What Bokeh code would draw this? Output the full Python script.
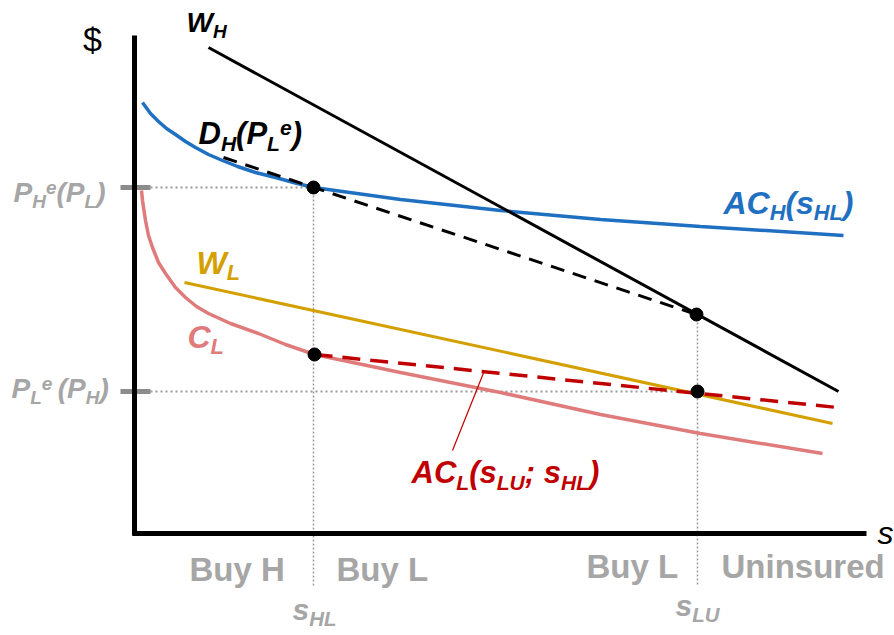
from bokeh.plotting import figure
from bokeh.models import Range1d
from bokeh.core.properties import value
from bokeh.embed import file_html
from bokeh.resources import INLINE

# ---- data (units: s along x, $ along y, origin at axes crossing) ----
wh_s = [74, 704]
wh_p = [486, 142]

ach_s = [8, 16, 24, 32, 41, 51, 61, 74, 88, 103, 121, 141, 159, 179, 266, 366, 466, 566, 709]
ach_p = [431, 420, 412, 405, 399, 392, 386, 379, 373, 367, 361, 356, 351, 346, 334, 323, 314, 307, 298]

dh_s = [89, 562]
dh_p = [376, 219]

wl_s = [50, 698]
wl_p = [251, 110]

cl_s = [7, 8, 11, 14, 18, 24, 31, 41, 51, 62, 74, 96, 124, 151, 180, 266, 366, 466, 566, 688]
cl_p = [343, 333, 313, 298, 286, 271, 260, 246, 236, 227, 220, 210, 200, 189, 179, 161, 141, 119, 100, 80]

acl_s = [180, 703]
acl_p = [179, 126]

dot_s = [179, 562, 180, 563]
dot_p = [346, 219, 179, 142]

s_HL = 179
s_LU = 563
pH_e = 346
pL_e = 142

OX, OY = 134, 533  # picture pixel of origin (for label placement helper)
FIX = 0.34          # baseline compensation (fraction of font size)

p = figure(width=894, height=635, output_backend="svg", toolbar_location=None,
           x_range=Range1d(-OX, 894 - OX), y_range=Range1d(OY - 635, OY),
           min_border=0)
p.axis.visible = False
p.grid.visible = False
p.outline_line_color = None
p.background_fill_color = "white"

GRAY_T = "#a6a6a6"
GRAY_L = "#8c8c8c"

# dotted guides
p.line([16, s_HL], [pH_e, pH_e], line_color="#999999", line_width=2, line_dash="2 3")
p.line([16, s_LU], [pL_e, pL_e], line_color="#999999", line_width=2, line_dash="2 3")
p.line([s_HL, s_HL], [pH_e, -52], line_color="#999999", line_width=1.5, line_dash="2 2")
p.line([s_LU, s_LU], [219, -52], line_color="#999999", line_width=1.5, line_dash="2 2")

# ticks
p.line([-14, 16], [pH_e, pH_e], line_color=GRAY_L, line_width=5)
p.line([-14, 16], [pL_e, pL_e], line_color=GRAY_L, line_width=5)

# axes
p.line([0, 0], [-2, 498], line_color="black", line_width=5)
p.line([-2, 732], [0, 0], line_color="black", line_width=5)

# curves
p.line(cl_s, cl_p, line_color="#e07b7b", line_width=3.5)
p.line(wl_s, wl_p, line_color="#d4a000", line_width=3)
p.line(acl_s, acl_p, line_color="#c00000", line_width=3.5, line_dash="18 10")
p.line(ach_s, ach_p, line_color="#1f70c1", line_width=3.5)
p.line(dh_s, dh_p, line_color="black", line_width=3, line_dash="14 9")
p.line(wh_s, wh_p, line_color="black", line_width=3)

# annotation pointer for AC_L
p.line([350, 318], [163, 83], line_color="#c00000", line_width=1.2)

p.scatter(dot_s, dot_p, size=13, color="black")

# ---- text helper ----
WID = {'A': 722, 'C': 722, 'D': 722, 'H': 722, 'L': 611, 'P': 667, 'U': 722,
       'W': 944, '(': 333, ')': 333, 's': 556, 'e': 556, ';': 333, ' ': 278}


def put(x, base, txt, size, color, style, align="left"):
    p.text(x=[x - OX], y=[OY - (base - FIX * size)], text=[txt],
           text_font=value("Liberation Sans"), text_font_style=style,
           text_font_size=f"{size:.1f}px", text_color=color,
           text_align=align, text_baseline="alphabetic")


def label(x0, base, parts, size, color, style="bold italic"):
    x = x0
    for txt, kind in parts:
        if kind == 'm':
            s, dy = size, 0
        elif kind == 'b':
            s, dy = size * 0.68, 0.2 * size
        else:
            s, dy = size * 0.68, -0.31 * size
        put(x, base + dy, txt, s, color, style)
        x += sum(WID.get(c, 600) for c in txt) / 1000 * s


label(186, 32, [("W", 'm'), ("H", 'b')], 28, "black")
label(198, 144, [("D", 'm'), ("H", 'b'), ("(", 'm'), ("P", 'm'), ("L", 'b'), ("e", 'p'), (")", 'm')],
      31, "black")
label(723, 213, [("AC", 'm'), ("H", 'b'), ("(", 'm'), ("s", 'm'), ("HL", 'b'), (")", 'm')], 32, "#1f70c1")
label(196, 273, [("W", 'm'), ("L", 'b')], 32, "#d4a000")
label(187, 347, [("C", 'm'), ("L", 'b')], 32, "#e07b7b")
label(411, 483, [("AC", 'm'), ("L", 'b'), ("(", 'm'), ("s", 'm'), ("LU", 'b'), ("; ", 'm'),
                 ("s", 'm'), ("HL", 'b'), (")", 'm')], 31, "#c00000")
label(13, 202, [("P", 'm'), ("H", 'b'), ("e", 'p'), ("(", 'm'), ("P", 'm'), ("L", 'b'), (")", 'm')],
      28, GRAY_T)
label(11, 398, [("P", 'm'), ("L", 'b'), ("e", 'p'), (" ", 'b'), ("(", 'm'), ("P", 'm'), ("H", 'b'), (")", 'm')],
      28, GRAY_T)
label(292, 619, [("s", 'm'), ("HL", 'b')], 30, GRAY_T)
label(675, 615, [("s", 'm'), ("LU", 'b')], 30, GRAY_T)

# region labels
regions = ["Buy H", "Buy L", "Buy L", "Uninsured"]
reg_x = [189, 336, 586, 721]
reg_y = [580, 580, 577, 577]
for t, xx, yy in zip(regions, reg_x, reg_y):
    put(xx, yy, t, 33, GRAY_T, "bold")

# axis titles
put(92, 50, "$", 34, "black", "normal", align="center")
put(877, 543, "s", 32, "black", "italic")

open("out.html", "w").write(file_html(p, INLINE))
